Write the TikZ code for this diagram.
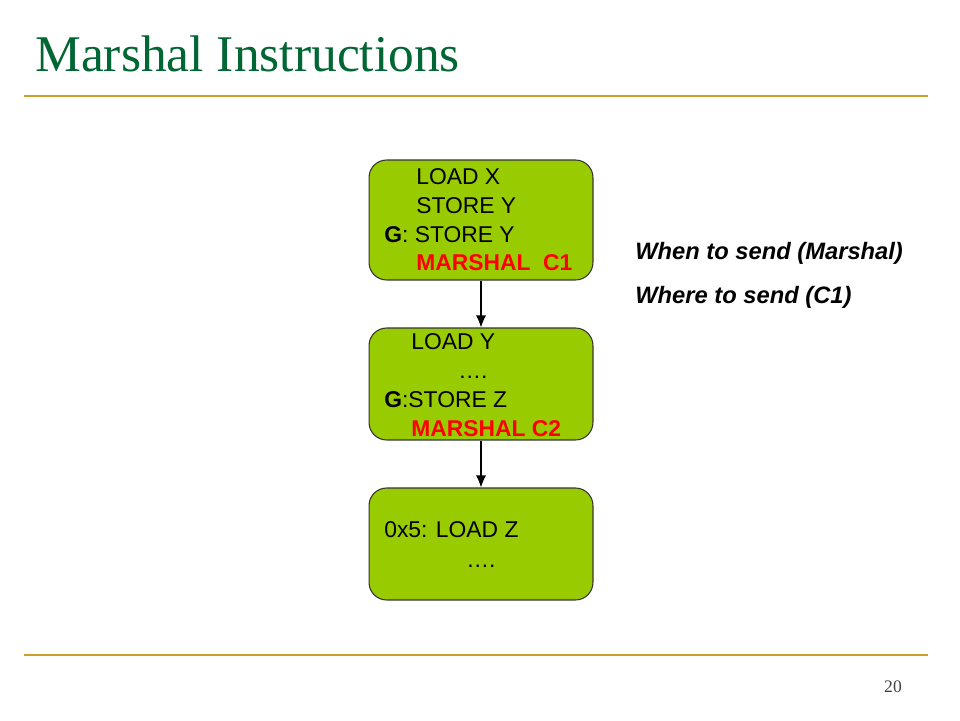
\documentclass[tikz,border=0pt]{standalone}
\usepackage{fontspec}
\usetikzlibrary{arrows.meta}
\setmainfont{Liberation Serif}
\newfontfamily\arialfont{Liberation Sans}
\definecolor{titlegreen}{RGB}{0,102,51}
\definecolor{rulegold}{RGB}{204,160,40}
\definecolor{boxgreen}{RGB}{153,204,0}
\definecolor{marshalred}{RGB}{255,0,0}
\tikzset{
  blockbox/.style={draw=black!80, line width=0.6pt, fill=boxgreen, rounded corners=10pt, minimum width=4.48cm},
  codeline/.style={anchor=base west, inner sep=0pt, font=\arialfont\fontsize{13}{15}\selectfont},
  marshalline/.style={codeline, text=marshalred, font=\arialfont\bfseries\fontsize{13}{15}\selectfont},
  sideline/.style={codeline, font=\arialfont\bfseries\itshape\fontsize{13.5}{16}\selectfont},
  flowarrow/.style={-{Latex[length=2.4mm,width=2mm]}, line width=0.6pt},
  goldrule/.style={draw=rulegold, line width=1.6pt}
}

\begin{document}
\begin{tikzpicture}[x=0.02cm, y=-0.02cm]
		%%%%% START %%%%%
		\useasboundingbox (0,0) rectangle (960,720);
		
		\node[anchor=base west, inner sep=0pt, text=titlegreen, font=\fontsize{29.3}{35}\selectfont] (title) at (35,71) {Marshal Instructions};
		\draw[goldrule] (24,96) -- (928,96);
		
		\node[blockbox, minimum height=2.4cm] (block1) at (481,220) {};
		\node[blockbox, minimum height=2.24cm] (block2) at (481,384) {};
		\node[blockbox, minimum height=2.24cm] (block3) at (481,544) {};
		
		\draw[flowarrow] (block1) -- (block2);
		\draw[flowarrow] (block2) -- (block3);
		
		\node[codeline] (loadx) at (416,184) {LOAD X};
		\node[codeline] (storey) at (416,213) {STORE Y};
		\node[codeline] (gstorey) at (384,242) {\textbf{G}: STORE Y};
		\node[marshalline] (marshalc1) at (416,270) {MARSHAL\ \ C1};
		
		\node[codeline] (loady) at (411,349) {LOAD Y};
		\node[codeline] (dotsa) at (458,378) {….};
		\node[codeline] (gstorez) at (384,407) {\textbf{G}:STORE Z};
		\node[marshalline] (marshalc2) at (411,436) {MARSHAL C2};
		
		\node[codeline] (loadz) at (384,537) {0x5: LOAD Z};
		\node[codeline] (dotsb) at (466,567) {….};
		
		\node[sideline] (when) at (635,259) {When to send (Marshal)};
		\node[sideline] (where) at (635,303) {Where to send (C1)};
		
		\draw[goldrule] (24,655) -- (928,655);
		\node[anchor=base, inner sep=0pt, text=black!75, font=\fontsize{10}{12}\selectfont] (pagenum) at (893,692) {20};
		%%%%% END %%%%%
\end{tikzpicture}
\end{document}
